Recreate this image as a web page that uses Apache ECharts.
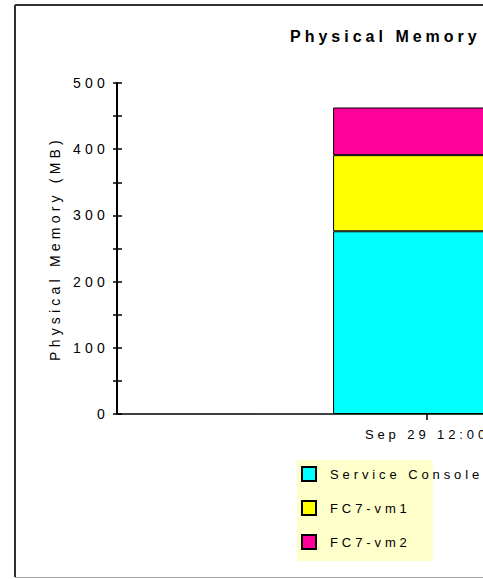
<!DOCTYPE html>
<html>
<head>
<meta charset="utf-8">
<script src="https://cdn.jsdelivr.net/npm/echarts@6/dist/echarts.min.js"></script>
<style>
  html, body { margin: 0; padding: 0; width: 483px; height: 579px; overflow: hidden; background: #fff; }
  #chart { width: 760px; height: 579px; }
  #chart text { letter-spacing: 0.3em; }
  #chart text[style*="16px"] { letter-spacing: 0.25em; }
</style>
</head>
<body>
<div id="chart"></div>
<script>
// ---- data ----
const titleText = 'Physical Memory Usage';
const yAxisName = 'Physical Memory (MB)';
const categories = ['Sep 29 12:00'];
const seriesNames = ['Service Console', 'FC7-vm1', 'FC7-vm2'];
const serviceConsole = [276];
const fc7vm1 = [115];
const fc7vm2 = [72];
const seriesColors = ['#00ffff', '#ffff00', '#ff0099'];
const yMin = 0, yMax = 500, yStep = 100;

const FONT = 'Liberation Sans, Arial, Helvetica, sans-serif';
const values = [serviceConsole, fc7vm1, fc7vm2];

const chart = echarts.init(document.getElementById('chart'), null, { renderer: 'svg' });

const yCommon = {
  type: 'value', min: yMin, max: yMax, interval: yStep, position: 'left',
  splitLine: { show: false },
  minorSplitLine: { show: false }
};

chart.setOption({
  animation: false,
  backgroundColor: '#ffffff',
  title: {
    text: titleText, left: 290, top: 28, padding: 0,
    textStyle: { fontFamily: FONT, fontSize: 16, fontWeight: 'bold', color: '#000' }
  },
  grid: { left: 117, right: 23, top: 83, bottom: 165, containLabel: false },
  xAxis: {
    type: 'category', data: categories,
    axisLine: { lineStyle: { color: '#000', width: 1.5 } },
    axisTick: { show: true, alignWithLabel: true, length: 6, lineStyle: { color: '#000', width: 1.5 } },
    axisLabel: { color: '#000', fontFamily: FONT, fontSize: 13, margin: 14 }
  },
  yAxis: [
    Object.assign({}, yCommon, {
      name: yAxisName, nameLocation: 'middle', nameGap: 55,
      nameTextStyle: { fontFamily: FONT, fontSize: 14, color: '#000' },
      axisLine: { show: true, lineStyle: { color: '#000', width: 2 } },
      axisTick: { show: true, length: 4, lineStyle: { color: '#000', width: 1.5 } },
      minorTick: { show: true, splitNumber: 2, length: 4, lineStyle: { color: '#000', width: 1.5 } },
      axisLabel: { color: '#000', fontFamily: FONT, fontSize: 14, margin: 8 }
    }),
    Object.assign({}, yCommon, {
      axisLine: { show: false },
      axisTick: { show: true, inside: true, length: 5, lineStyle: { color: '#000', width: 1.5 } },
      minorTick: { show: true, splitNumber: 2, length: 5, lineStyle: { color: '#000', width: 1.5 } },
      axisLabel: { show: false }
    })
  ],
  legend: {
    orient: 'vertical', left: 297, top: 460,
    padding: [6, 8, 11, 4],
    backgroundColor: '#ffffcc',
    itemWidth: 14, itemHeight: 14, itemGap: 18,
    icon: 'rect',
    data: seriesNames,
    textStyle: { fontFamily: FONT, fontSize: 13, color: '#000', width: 200, padding: [0, 0, 0, 9] }
  },
  graphic: [
    { type: 'line', shape: { x1: 15, y1: 5, x2: 760, y2: 5 }, style: { stroke: '#303030', lineWidth: 2 } },
    { type: 'line', shape: { x1: 15, y1: 5, x2: 15, y2: 577 }, style: { stroke: '#303030', lineWidth: 2 } },
    { type: 'line', shape: { x1: 15, y1: 577.5, x2: 760, y2: 577.5 }, style: { stroke: '#a0a0a0', lineWidth: 1 } }
  ],
  series: seriesNames.map((name, i) => ({
    name: name, type: 'bar', stack: 'mem', data: values[i],
    barWidth: '30.3%',
    itemStyle: { color: seriesColors[i], borderColor: '#000', borderWidth: 1 }
  }))
});
</script>
</body>
</html>
